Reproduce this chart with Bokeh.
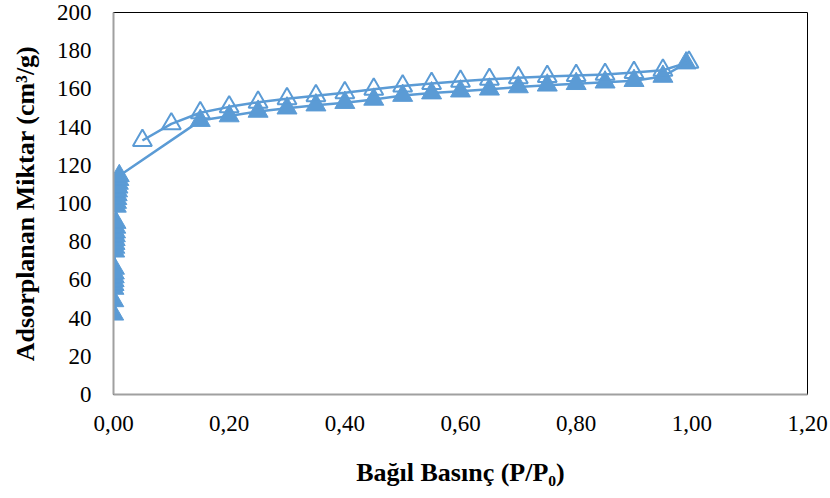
from bokeh.plotting import figure
from bokeh.models import Range1d, FixedTicker
from bokeh.embed import file_html
from bokeh.resources import INLINE

# Adsorption branch (filled triangles)
ads_p = [0.0003, 0.0005, 0.0007, 0.0009, 0.0011, 0.0013, 0.0015, 0.0017, 0.0020,
         0.0023, 0.0026, 0.0029, 0.0032, 0.0035, 0.0039, 0.0043, 0.0048, 0.0053,
         0.0058, 0.0064, 0.0070, 0.0077, 0.0084, 0.0092, 0.0100,
         0.15, 0.20, 0.25, 0.30, 0.35, 0.40, 0.45, 0.50, 0.55, 0.60, 0.65, 0.70,
         0.75, 0.80, 0.85, 0.90, 0.95, 0.99]
ads_v = [42, 49, 55.5, 57.5, 59.5, 61.5, 63.5, 66, 75,
         77, 79, 81, 83, 85, 87.5, 90, 98.5, 100.5,
         102.5, 104.5, 106.5, 108.5, 110.5, 112.5, 114.5,
         143.4, 145.8, 148.2, 149.9, 151.5, 152.8, 154.5, 156.5, 157.8, 158.8, 159.8, 161.0,
         161.9, 162.7, 163.5, 164.3, 166.5, 173.5]

# Desorption branch (open triangles)
des_p = [0.995, 0.95, 0.90, 0.85, 0.80, 0.75, 0.70, 0.65, 0.60, 0.55, 0.50,
         0.45, 0.40, 0.35, 0.30, 0.25, 0.20, 0.15, 0.10, 0.05]
des_v = [174.0, 169.8, 168.6, 167.6, 167.0, 166.5, 165.8, 165.0, 164.0, 162.8, 161.5,
         159.8, 158.0, 156.4, 154.8, 153.0, 150.6, 147.5, 141.7, 133.0]

x_ticks = [0, 0.2, 0.4, 0.6, 0.8, 1.0, 1.2]
x_tick_labels = ["0,00", "0,20", "0,40", "0,60", "0,80", "1,00", "1,20"]
y_ticks = [0, 20, 40, 60, 80, 100, 120, 140, 160, 180, 200]

BLUE = "#5B9BD5"
SERIF = "Liberation Serif"

p = figure(frame_width=694, frame_height=382,
           min_border_left=113, min_border_top=12, min_border_right=23, min_border_bottom=104,
           x_range=Range1d(0, 1.2), y_range=Range1d(0, 200),
           output_backend="svg", toolbar_location=None)

p.line(ads_p, ads_v, line_color=BLUE, line_width=2.5)
p.scatter(ads_p, ads_v, marker="triangle", size=20, fill_color=BLUE, line_color=BLUE)
p.line(des_p, des_v, line_color=BLUE, line_width=2.5)
p.scatter(des_p, des_v, marker="triangle", size=19, fill_color=None, line_color=BLUE, line_width=2)

p.xgrid.visible = False
p.ygrid.visible = False
p.outline_line_color = "black"
p.outline_line_width = 1

p.xaxis.ticker = FixedTicker(ticks=x_ticks)
p.xaxis.major_label_overrides = {t: l for t, l in zip(x_ticks, x_tick_labels)}
p.yaxis.ticker = FixedTicker(ticks=y_ticks)

for ax in (p.xaxis, p.yaxis):
    ax.axis_line_color = "#a0a0a0"
    ax.axis_line_width = 2
    ax.major_tick_line_color = None
    ax.minor_tick_line_color = None
    ax.major_label_text_font = SERIF
    ax.major_label_text_font_size = "23px"
    ax.major_label_text_color = "black"
    ax.axis_label_text_font = SERIF
    ax.axis_label_text_font_style = "bold"
    ax.axis_label_text_color = "black"

p.xaxis.major_label_standoff = 15
p.yaxis.major_label_standoff = 16
p.xaxis.axis_label = "Bağıl Basınç (P/P\u2080)"
p.xaxis.axis_label_text_font_size = "26px"
p.xaxis.axis_label_standoff = 24
p.yaxis.axis_label = "Adsorplanan Miktar (cm\u00b3/g)"
p.yaxis.axis_label_text_font_size = "26px"
p.yaxis.axis_label_standoff = 14

open("out.html", "w").write(file_html(p, INLINE))
